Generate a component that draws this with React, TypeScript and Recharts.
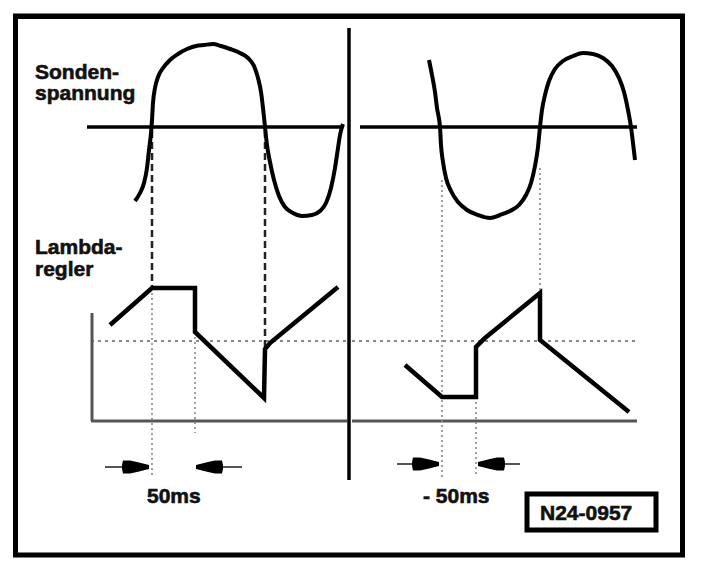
import React from "react";
import {
  ComposedChart,
  XAxis,
  YAxis,
  Line,
  Scatter,
  ReferenceLine,
  ReferenceArea,
} from "recharts";

if (typeof document !== "undefined") {
  document.body.style.margin = "0";
}

// Sheet coordinate system of the schematic (x to the right, y downward)
const SHEET_W = 704;
const SHEET_H = 572;

// Sondenspannung (probe voltage) traces, left and right panel
const sondeLeft = [
  { x: 135, y: 201 }, { x: 140, y: 193 }, { x: 144, y: 183 }, { x: 147, y: 168 },
  { x: 149, y: 150 }, { x: 151, y: 133 }, { x: 152, y: 120 }, { x: 153, y: 103 },
  { x: 155, y: 88 }, { x: 158, y: 77 }, { x: 163, y: 68 }, { x: 170, y: 60 },
  { x: 178, y: 54 }, { x: 187, y: 49 }, { x: 196, y: 46 }, { x: 204, y: 45 },
  { x: 213, y: 44 }, { x: 221, y: 46 }, { x: 230, y: 49 }, { x: 240, y: 53 },
  { x: 248, y: 58 }, { x: 254, y: 66 }, { x: 258, y: 78 }, { x: 261, y: 92 },
  { x: 263, y: 108 }, { x: 265, y: 127 }, { x: 267, y: 145 }, { x: 270, y: 162 },
  { x: 274, y: 180 }, { x: 279, y: 196 }, { x: 285, y: 207 }, { x: 293, y: 213 },
  { x: 302, y: 216 }, { x: 312, y: 215 }, { x: 320, y: 211 }, { x: 326, y: 203 },
  { x: 331, y: 188 }, { x: 335, y: 168 }, { x: 338, y: 148 }, { x: 340, y: 135 },
  { x: 343, y: 124 },
];

const sondeRight = [
  { x: 429, y: 60 }, { x: 432, y: 75 }, { x: 435, y: 92 }, { x: 437, y: 108 },
  { x: 440, y: 127 }, { x: 441, y: 145 }, { x: 443, y: 162 }, { x: 446, y: 178 },
  { x: 451, y: 191 }, { x: 458, y: 202 }, { x: 467, y: 210 }, { x: 478, y: 215 },
  { x: 490, y: 218 }, { x: 500, y: 215 }, { x: 510, y: 211 }, { x: 519, y: 205 },
  { x: 526, y: 195 }, { x: 531, y: 183 }, { x: 535, y: 166 }, { x: 538, y: 147 },
  { x: 540, y: 127 }, { x: 542, y: 110 }, { x: 545, y: 95 }, { x: 549, y: 81 },
  { x: 555, y: 69 }, { x: 563, y: 61 }, { x: 573, y: 56 }, { x: 583, y: 53 },
  { x: 593, y: 54 }, { x: 603, y: 58 }, { x: 612, y: 66 }, { x: 619, y: 78 },
  { x: 624, y: 92 }, { x: 628, y: 110 }, { x: 631, y: 127 }, { x: 633, y: 143 },
  { x: 635, y: 160 },
];

// Lambdaregler (lambda controller) output
const lambdaLeft = [
  { x: 110, y: 325 }, { x: 152, y: 288 }, { x: 195, y: 288 }, { x: 195, y: 332 },
  { x: 264, y: 398 }, { x: 265, y: 349 }, { x: 270, y: 343 }, { x: 338, y: 287 },
];

const lambdaRight = [
  { x: 405, y: 365 }, { x: 442, y: 397 }, { x: 476, y: 397 }, { x: 476, y: 347 },
  { x: 485, y: 338 }, { x: 540, y: 293 }, { x: 540, y: 340 }, { x: 629, y: 412 },
];

// Zero lines of the probe voltage
const zeroLines = [
  { x1: 87, x2: 343, y: 127 },
  { x1: 360, x2: 637, y: 127 },
];

// Mid line of the lambda controller (dotted)
const lambdaMid = [
  { x1: 91, x2: 347, y: 341 },
  { x1: 352, x2: 639, y: 341 },
];

// Lambda controller base axes
const baseLines = [
  { x1: 91, x2: 347, y: 421 },
  { x1: 352, x2: 637, y: 421 },
];
const leftAxis = { x: 92, y1: 313, y2: 421 };

// Vertical guides: dark dashed and light dotted
const dashedGuides = [
  { x: 152, y1: 131, y2: 288 },
  { x: 265, y1: 131, y2: 348 },
];
const dottedGuides = [
  { x: 152, y1: 288, y2: 478 },
  { x: 195, y1: 332, y2: 433 },
  { x: 442, y1: 180, y2: 477 },
  { x: 540, y1: 168, y2: 293 },
  { x: 476, y1: 347, y2: 477 },
];

// 50 ms markers: arrow tip, tail end, direction
const arrows = [
  { x: 149, tail: 105, y: 467, dir: 1 },
  { x: 196, tail: 242, y: 467, dir: -1 },
  { x: 439, tail: 397, y: 464, dir: 1 },
  { x: 478, tail: 520, y: 464, dir: -1 },
];

const labels = [
  { x: 35, y: 79, text: "Sonden-" },
  { x: 35, y: 100, text: "spannung" },
  { x: 35, y: 254, text: "Lambda-" },
  { x: 35, y: 276, text: "regler" },
  { x: 147, y: 503, text: "50ms" },
  { x: 423, y: 503, text: "- 50ms" },
  { x: 540, y: 520, text: "N24-0957" },
];

const frame = { x1: 15.5, x2: 682.5, y1: 16, y2: 555 };
const divider = { x: 349, y1: 28, y2: 480 };
const idBox = { x1: 527, x2: 656, y1: 494, y2: 530 };

const ArrowHead = (props: any) => {
  const { cx, cy, payload } = props;
  if (cx == null || cy == null) return null;
  const d = payload.dir;
  const pts = [
    [cx, cy - 2],
    [cx - d * 12, cy - 5],
    [cx - d * 19, cy - 6.5],
    [cx - d * 26, cy - 6.5],
    [cx - d * 27, cy - 2],
    [cx - d * 27, cy + 2],
    [cx - d * 26, cy + 6.5],
    [cx - d * 19, cy + 6.5],
    [cx - d * 12, cy + 5],
    [cx, cy + 2],
  ]
    .map((p) => p.join(","))
    .join(" ");
  return <polygon points={pts} fill="#000" />;
};

const LabelText = (props: any) => {
  const { cx, cy, payload } = props;
  if (cx == null || cy == null) return null;
  return (
    <text
      x={cx}
      y={cy}
      textAnchor="start"
      fontFamily="'Liberation Sans', Arial, sans-serif"
      fontWeight={700}
      fontSize={21}
      fill="#111"
      stroke="#111"
      strokeWidth={0.6}
    >
      {payload.text}
    </text>
  );
};

export default function App() {
  return (
    <div style={{ width: SHEET_W, height: SHEET_H, background: "#fff" }}>
      <ComposedChart
        width={SHEET_W}
        height={SHEET_H}
        margin={{ top: 0, right: 0, bottom: 0, left: 0 }}
      >
        <XAxis type="number" dataKey="x" domain={[0, SHEET_W]} hide allowDataOverflow />
        <YAxis type="number" dataKey="y" domain={[0, SHEET_H]} reversed hide allowDataOverflow />

        <ReferenceArea
          x1={frame.x1}
          x2={frame.x2}
          y1={frame.y1}
          y2={frame.y2}
          fill="none"
          fillOpacity={0}
          stroke="#000"
          strokeWidth={5}
          ifOverflow="visible"
        />
        <ReferenceLine
          segment={[{ x: frame.x1, y: frame.y1 + 1 }, { x: frame.x2, y: frame.y1 + 1 }]}
          stroke="#000"
          strokeWidth={4}
          ifOverflow="visible"
        />
        <ReferenceLine
          segment={[{ x: divider.x, y: divider.y1 }, { x: divider.x, y: divider.y2 }]}
          stroke="#000"
          strokeWidth={3.5}
        />

        {zeroLines.map((l, i) => (
          <ReferenceLine
            key={"z" + i}
            segment={[{ x: l.x1, y: l.y }, { x: l.x2, y: l.y }]}
            stroke="#000"
            strokeWidth={3.5}
          />
        ))}
        {lambdaMid.map((l, i) => (
          <ReferenceLine
            key={"m" + i}
            segment={[{ x: l.x1, y: l.y }, { x: l.x2, y: l.y }]}
            stroke="#888"
            strokeWidth={2}
            strokeDasharray="3 4"
          />
        ))}
        {baseLines.map((l, i) => (
          <ReferenceLine
            key={"b" + i}
            segment={[{ x: l.x1, y: l.y }, { x: l.x2, y: l.y }]}
            stroke="#555"
            strokeWidth={3}
          />
        ))}
        <ReferenceLine
          segment={[{ x: leftAxis.x, y: leftAxis.y1 }, { x: leftAxis.x, y: leftAxis.y2 }]}
          stroke="#555"
          strokeWidth={3}
        />
        {dashedGuides.map((g, i) => (
          <ReferenceLine
            key={"d" + i}
            segment={[{ x: g.x, y: g.y1 }, { x: g.x, y: g.y2 }]}
            stroke="#222"
            strokeWidth={2.5}
            strokeDasharray="7 4"
          />
        ))}
        {dottedGuides.map((g, i) => (
          <ReferenceLine
            key={"g" + i}
            segment={[{ x: g.x, y: g.y1 }, { x: g.x, y: g.y2 }]}
            stroke="#888"
            strokeWidth={1.6}
            strokeDasharray="2 3"
          />
        ))}
        {arrows.map((a, i) => (
          <ReferenceLine
            key={"a" + i}
            segment={[{ x: a.tail, y: a.y }, { x: a.x, y: a.y }]}
            stroke="#555"
            strokeWidth={2}
          />
        ))}

        <ReferenceArea
          x1={idBox.x1}
          x2={idBox.x2}
          y1={idBox.y1}
          y2={idBox.y2}
          fill="#fff"
          fillOpacity={1}
          stroke="#000"
          strokeWidth={5}
        />

        <Line
          data={sondeLeft}
          dataKey="y"
          type="monotone"
          stroke="#000"
          strokeWidth={4}
          dot={false}
          activeDot={false}
          isAnimationActive={false}
        />
        <Line
          data={sondeRight}
          dataKey="y"
          type="monotone"
          stroke="#000"
          strokeWidth={4}
          dot={false}
          activeDot={false}
          isAnimationActive={false}
        />
        <Line
          data={lambdaLeft}
          dataKey="y"
          type="linear"
          stroke="#000"
          strokeWidth={4.5}
          dot={false}
          activeDot={false}
          isAnimationActive={false}
        />
        <Line
          data={lambdaRight}
          dataKey="y"
          type="linear"
          stroke="#000"
          strokeWidth={4.5}
          dot={false}
          activeDot={false}
          isAnimationActive={false}
        />

        <Scatter data={arrows} shape={ArrowHead} isAnimationActive={false} />
        <Scatter data={labels} shape={LabelText} isAnimationActive={false} />
      </ComposedChart>
    </div>
  );
}
